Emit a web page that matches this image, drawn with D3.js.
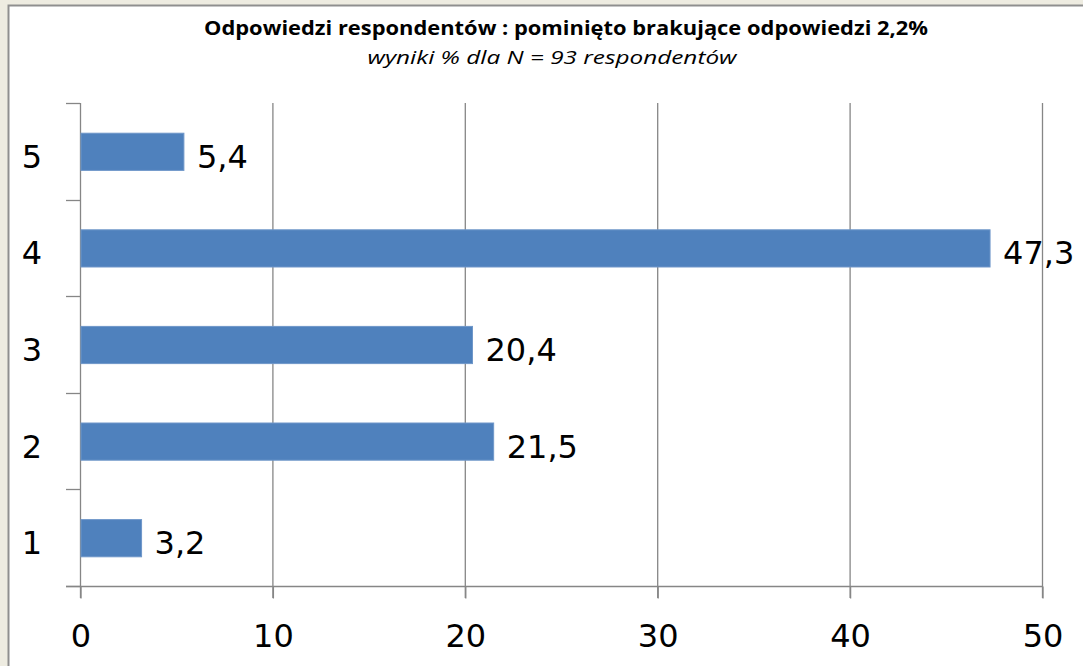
<!DOCTYPE html>
<html><head><meta charset="utf-8">
<script src="https://cdn.jsdelivr.net/npm/d3@7"></script>
<style>body{margin:0;background:#EEECE1;}svg{display:block;}</style>
</head><body>
<svg id="c" width="1083" height="666"></svg>
<script>
const categories = ["1","2","3","4","5"];
const values = [3.2, 21.5, 20.4, 47.3, 5.4];
const xTicks = [0,10,20,30,40,50];
const labels = ["3,2","21,5","20,4","47,3","5,4"];
const title = "Odpowiedzi  respondentów : pominięto brakujące odpowiedzi 2,2%";
const subtitle = "wyniki % dla N = 93 respondentów";

const svg = d3.select("#c");
svg.append("rect").attr("x",0).attr("y",0).attr("width",1083).attr("height",666).attr("fill","#EEECE1");
svg.append("rect").attr("x",8.5).attr("y",5.5).attr("width",1090).attr("height",690)
  .attr("fill","#fff").attr("stroke","#8f8f8f").attr("stroke-width",2);

const L=80,R=1042,T=103,B=586;
const x = d3.scaleLinear().domain([0,50]).range([L,R]);
const y = d3.scaleBand().domain(categories.slice().reverse()).range([T,B]).padding(0);
const grey="#868686";
const numFont = "DejaVu Sans";
const numSize = 32;

// gridlines
svg.append("g").selectAll("line").data(xTicks.slice(1)).join("line")
  .attr("x1",d=>x(d)+0.5).attr("x2",d=>x(d)+0.5).attr("y1",T).attr("y2",B+12)
  .attr("stroke",grey).attr("stroke-width",1.3);

// x axis
const xa = svg.append("g").attr("transform",`translate(0.5,${B+0.5})`)
  .call(d3.axisBottom(x).tickValues(xTicks).tickSize(12).tickPadding(26).tickSizeOuter(0));
xa.select(".domain").remove();
xa.selectAll("line").attr("stroke",grey).attr("stroke-width",1.3);
xa.selectAll("text").attr("font-family",numFont).attr("font-size",numSize).attr("fill","#000");
svg.append("line").attr("x1",L-14).attr("x2",R).attr("y1",B+0.5).attr("y2",B+0.5).attr("stroke",grey).attr("stroke-width",1.3);

// y axis
svg.append("line").attr("x1",L+0.5).attr("x2",L+0.5).attr("y1",T).attr("y2",B+12).attr("stroke",grey).attr("stroke-width",1.3);
const ticksY = d3.range(0,categories.length+1).map(i=>T+i*y.step());
svg.append("g").selectAll("line").data(ticksY).join("line")
  .attr("x1",L-14).attr("x2",L).attr("y1",d=>Math.round(d)+0.5).attr("y2",d=>Math.round(d)+0.5)
  .attr("stroke",grey).attr("stroke-width",1.3);
svg.append("g").selectAll("text").data(categories).join("text")
  .attr("x",32).attr("y",d=>y(d)+y.bandwidth()/2+5).attr("dy","0.36em")
  .attr("text-anchor","middle").attr("font-family",numFont).attr("font-size",numSize).text(d=>d);

// bars
const bh = y.bandwidth()*0.385;
svg.append("g").selectAll("rect").data(categories).join("rect")
  .attr("x",x(0)+1).attr("y",(d,i)=>y(d)+y.bandwidth()/2-bh/2+0.5)
  .attr("width",(d,i)=>x(values[i])-x(0)-1).attr("height",bh)
  .attr("fill","#4F81BD").attr("stroke","#6f97c9").attr("stroke-width",1);
svg.append("g").selectAll("text").data(categories).join("text")
  .attr("x",(d,i)=>x(values[i])+13).attr("y",d=>y(d)+y.bandwidth()/2+5).attr("dy","0.36em")
  .attr("font-family",numFont).attr("font-size",numSize).text((d,i)=>labels[i]);

// titles
svg.append("text").attr("x",566).attr("y",35).attr("text-anchor","middle")
  .attr("font-family","'Liberation Sans Narrow', 'Open Sans'").attr("font-weight","bold").attr("font-size",19)
  .attr("textLength",724).attr("lengthAdjust","spacingAndGlyphs").text(title);
svg.append("text").attr("x",552).attr("y",64).attr("text-anchor","middle")
  .attr("font-family","'Liberation Sans Narrow', 'Open Sans'").attr("font-style","italic").attr("font-size",18)
  .attr("textLength",369).attr("lengthAdjust","spacingAndGlyphs").text(subtitle);
</script>
</body></html>
